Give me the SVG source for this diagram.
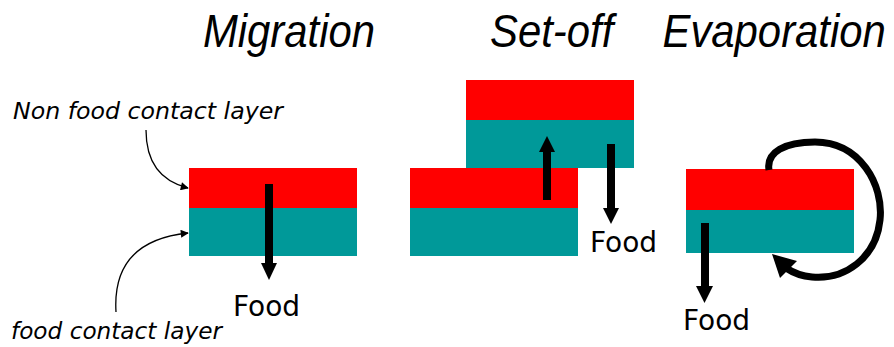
<svg xmlns="http://www.w3.org/2000/svg" width="894" height="347" viewBox="0 0 894 347">
<style>
.title{font-family:"Liberation Sans",Arial,sans-serif;font-style:italic;font-size:46px;fill:#000}
.lbl{font-family:"DejaVu Sans",Verdana,sans-serif;font-style:italic;font-size:23px;fill:#000}
.food{font-family:"DejaVu Sans",Verdana,sans-serif;font-size:28px;fill:#000}
.red{fill:#ff0000}
.teal{fill:#009999}
.thin{fill:none;stroke:#000;stroke-width:1.3}
.thick{fill:none;stroke:#000;stroke-width:7}
</style>
<defs>
<marker id="sm" viewBox="0 0 10 10" refX="9" refY="5" markerWidth="10" markerHeight="8" markerUnits="userSpaceOnUse" orient="auto">
<path d="M0 0L10 5L0 10z" fill="#000"/>
</marker>
</defs>
<g id="titles" transform="scale(0.91 1)">
<text class="title" x="223" y="47">Migration</text>
<text class="title" x="538.5" y="47">Set-off</text>
<text class="title" x="728" y="47">Evaporation</text>
</g>
<g id="labels">
<text class="lbl" x="13" y="119" textLength="270" lengthAdjust="spacingAndGlyphs">Non food contact layer</text>
<text class="lbl" x="11" y="339" textLength="211" lengthAdjust="spacingAndGlyphs">food contact layer</text>
</g>
<g id="migration">
<rect class="red" x="189" y="168" width="168" height="40"/>
<rect class="teal" x="189" y="208" width="168" height="48"/>
<text class="food" x="233" y="316">Food</text>
</g>
<g id="setoff">
<rect class="red" x="466" y="80" width="168" height="40"/>
<rect class="teal" x="466" y="120" width="168" height="48"/>
<rect class="red" x="410" y="168" width="168" height="40"/>
<rect class="teal" x="410" y="208" width="168" height="48"/>
<text class="food" x="590" y="252">Food</text>
</g>
<g id="evaporation">
<rect class="red" x="686" y="169" width="168" height="41"/>
<rect class="teal" x="686" y="210" width="168" height="43"/>
<text class="food" x="683" y="330">Food</text>
</g>
<g id="connectors">
<path class="thin" d="M146 130C146 162 160 181 188 188" marker-end="url(#sm)"/>
<path class="thin" d="M116 312C113 262 140 238 188 233" marker-end="url(#sm)"/>
<rect x="265" y="184" width="8" height="80"/>
<polygon points="261,263 277,263 269,280"/>
<rect x="543" y="151" width="8" height="49"/>
<polygon points="539,152 555,152 547,136"/>
<rect x="607" y="144" width="8" height="65"/>
<polygon points="603,208 619,208 611,224"/>
<rect x="701" y="223" width="8" height="64"/>
<polygon points="696,286 713,286 704.5,303"/>
<path class="thick" d="M769 170C766 152 785 142 815 142C860 142 884 185 880 220C876 258 845 280 812 277C800 276 792 272 786 268"/>
<polygon points="772,254 797,261 780,278"/>
</g>
</svg>
